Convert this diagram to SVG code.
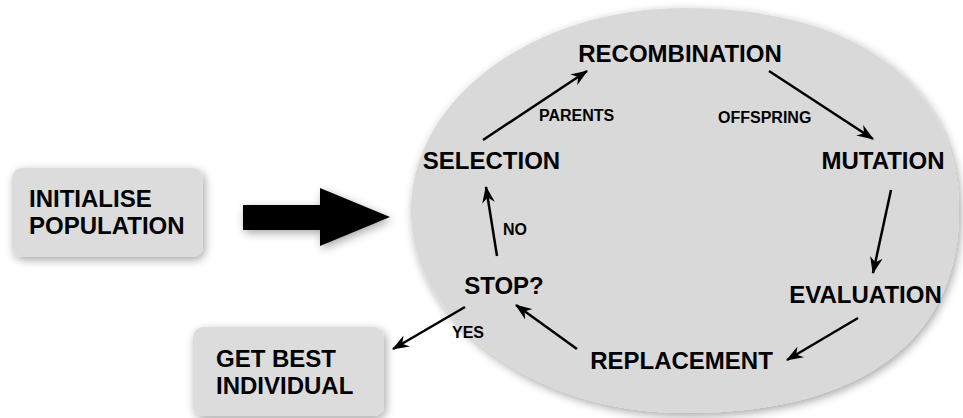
<svg xmlns="http://www.w3.org/2000/svg" width="963" height="418" viewBox="0 0 963 418">
<style>
.lbl{font-family:"Liberation Sans",Arial,sans-serif;font-weight:bold;font-size:24px;fill:#000}
.sm{font-family:"Liberation Sans",Arial,sans-serif;font-weight:bold;font-size:16px;fill:#000}
.box{fill:#dcdcdc}
.edge{stroke:#000;stroke-width:2.5;fill:none;marker-end:url(#ah)}
</style>
<defs>
<filter id="sh" x="-20%" y="-20%" width="140%" height="140%">
<feGaussianBlur in="SourceAlpha" stdDeviation="5"/>
<feOffset dx="2" dy="3" result="b"/>
<feComponentTransfer><feFuncA type="linear" slope="0.35"/></feComponentTransfer>
<feMerge><feMergeNode/><feMergeNode in="SourceGraphic"/></feMerge>
</filter>
<marker id="ah" viewBox="0 0 16 12" refX="15" refY="6" markerWidth="17" markerHeight="13" markerUnits="userSpaceOnUse" orient="auto">
<path d="M0,0 L16,6 L0,12 L5,6 Z" fill="#000"/>
</marker>
</defs>
<g id="cycle">
<path d="M411,210.5 C411,98.7 533.8,8 685,8 C855,8 959,84 959,210.5 C959,340 862,413 685,413 C533.8,413 411,322.3 411,210.5 Z" fill="#d9d9d9" filter="url(#sh)"/>
</g>
<g id="initialise">
<rect x="12" y="168" width="191" height="89" rx="10" class="box" filter="url(#sh)"/>
<text x="29" y="207" class="lbl">INITIALISE</text>
<text x="29" y="234" class="lbl">POPULATION</text>
</g>
<g id="getbest">
<rect x="193" y="327" width="191" height="89" rx="10" class="box" filter="url(#sh)"/>
<text x="216" y="367" class="lbl">GET BEST</text>
<text x="216" y="394" class="lbl">INDIVIDUAL</text>
</g>
<g id="bigarrow">
<polygon points="243,205 320,205 320,188 390,217 320,246 320,230 243,230" fill="#000" filter="url(#sh)"/>
</g>
<g id="recombination"><text x="680" y="62" text-anchor="middle" class="lbl">RECOMBINATION</text></g>
<g id="mutation"><text x="883" y="169" text-anchor="middle" class="lbl">MUTATION</text></g>
<g id="evaluation"><text x="865.5" y="303" text-anchor="middle" class="lbl">EVALUATION</text></g>
<g id="replacement"><text x="681.5" y="369" text-anchor="middle" class="lbl">REPLACEMENT</text></g>
<g id="stop"><text x="504" y="294" text-anchor="middle" class="lbl">STOP?</text></g>
<g id="selection"><text x="491.5" y="169" text-anchor="middle" class="lbl">SELECTION</text></g>
<g id="connectors">
<line x1="483" y1="140" x2="587" y2="71" class="edge"/>
<line x1="769" y1="71" x2="873" y2="139" class="edge"/>
<line x1="891" y1="190" x2="873" y2="273" class="edge"/>
<line x1="858" y1="318" x2="787" y2="360" class="edge"/>
<line x1="577" y1="349" x2="516" y2="305" class="edge"/>
<line x1="497" y1="256" x2="486" y2="187" class="edge"/>
<line x1="465" y1="307" x2="393" y2="349" class="edge"/>
<text x="539" y="121" class="sm">PARENTS</text>
<text x="718" y="123" class="sm">OFFSPRING</text>
<text x="503" y="235" class="sm">NO</text>
<text x="452" y="338" class="sm">YES</text>
</g>
</svg>
